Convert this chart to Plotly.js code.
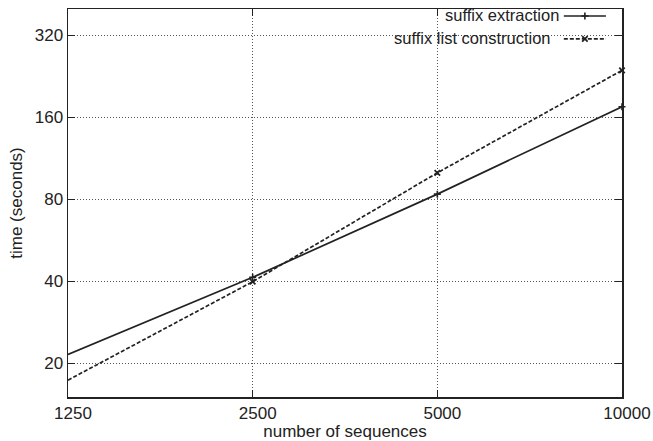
<!DOCTYPE html>
<html>
<head>
<meta charset="utf-8">
<script src="https://cdn.plot.ly/plotly-3.0.1.min.js"></script>
<style>html,body{margin:0;padding:0;background:#fff;}#chart{width:653px;height:441px;}</style>
</head>
<body>
<div id="chart"></div>
<script>
// Data
const sequences = [1250, 2500, 5000, 10000];
const suffixExtraction = [21.5, 41.3, 83.5, 175];
const suffixListConstruction = [17.3, 39.8, 100, 238];
const seriesNames = ["suffix extraction", "suffix list construction"];
const xTickVals = [1250, 2500, 5000, 10000];
const yTickVals = [20, 40, 80, 160, 320];

const ink = "#222";
const font = {family: "Liberation Sans, Arial, sans-serif", size: 17, color: "#222"};

const traces = [
  {x: sequences, y: suffixExtraction, name: seriesNames[0], type: "scatter", mode: "lines+markers",
   line: {color: ink, width: 1.7},
   marker: {symbol: "cross-thin", size: 5, line: {color: ink, width: 1.6}, color: ink},
   showlegend: false, cliponaxis: false},
  {x: sequences, y: suffixListConstruction, name: seriesNames[1], type: "scatter", mode: "lines+markers",
   line: {color: ink, width: 1.7, dash: "4px,2px"},
   marker: {symbol: "x-thin", size: 5.5, line: {color: ink, width: 1.8}, color: ink},
   showlegend: false, cliponaxis: false},
  // key samples on a hidden overlay axis
  {x: [0.895, 0.933, 0.971], y: [0.982, 0.982, 0.982], xaxis: "x2", yaxis: "y2", type: "scatter",
   mode: "lines", line: {color: ink, width: 1.7}, showlegend: false, hoverinfo: "skip"},
  {x: [0.933], y: [0.982], xaxis: "x2", yaxis: "y2", type: "scatter", mode: "markers",
   marker: {symbol: "cross-thin", size: 5, line: {color: ink, width: 1.6}}, showlegend: false, hoverinfo: "skip"},
  {x: [0.895, 0.971], y: [0.923, 0.923], xaxis: "x2", yaxis: "y2", type: "scatter",
   mode: "lines", line: {color: ink, width: 1.7, dash: "4px,2px"}, showlegend: false, hoverinfo: "skip"},
  {x: [0.933], y: [0.923], xaxis: "x2", yaxis: "y2", type: "scatter", mode: "markers",
   marker: {symbol: "x-thin", size: 5.5, line: {color: ink, width: 1.8}}, showlegend: false, hoverinfo: "skip"}
];

const axisCommon = {
  showline: true, linecolor: "#222", linewidth: 1.5, mirror: "ticks",
  ticks: "inside", ticklen: 7, tickwidth: 1, tickcolor: "#222",
  showgrid: true, gridcolor: "#555", gridwidth: 1, griddash: "1px,2px",
  zeroline: false, tickfont: font
};

const layout = {
  width: 653, height: 441,
  margin: {l: 68, r: 31, t: 9, b: 44},
  paper_bgcolor: "#fff", plot_bgcolor: "#fff",
  font: font,
  showlegend: false,
  xaxis: Object.assign({}, axisCommon, {
    type: "log", range: [Math.log10(1250), Math.log10(10000)],
    tickvals: xTickVals, ticktext: xTickVals.map(String),
    ticklabelshift: 5,
    title: {text: "number of sequences", font: font, standoff: 2}
  }),
  yaxis: Object.assign({}, axisCommon, {
    type: "log", range: [Math.log10(15), Math.log10(400)],
    tickvals: yTickVals, ticktext: yTickVals.map(String),
    title: {text: "time (seconds)", font: font, standoff: 8}
  }),
  xaxis2: {overlaying: "x", range: [0, 1], visible: false, fixedrange: true},
  yaxis2: {overlaying: "y", range: [0, 1], visible: false, fixedrange: true},
  shapes: [
    {type: "rect", xref: "paper", yref: "paper", x0: 0.58, x1: 0.982, y0: 0.915, y1: 0.95,
     fillcolor: "#fff", line: {width: 0}, layer: "between"}
  ],
  annotations: [
    {text: seriesNames[0], xref: "paper", yref: "paper", x: 0.89, y: 0.984, xanchor: "right", yanchor: "middle",
     showarrow: false, font: {family: font.family, size: 16.5, color: "#222"}},
    {text: seriesNames[1], xref: "paper", yref: "paper", x: 0.875, y: 0.925, xanchor: "right", yanchor: "middle",
     showarrow: false, font: {family: font.family, size: 16.5, color: "#222"}}
  ]
};

Plotly.newPlot("chart", traces, layout, {displayModeBar: false, staticPlot: true});
</script>
</body>
</html>
